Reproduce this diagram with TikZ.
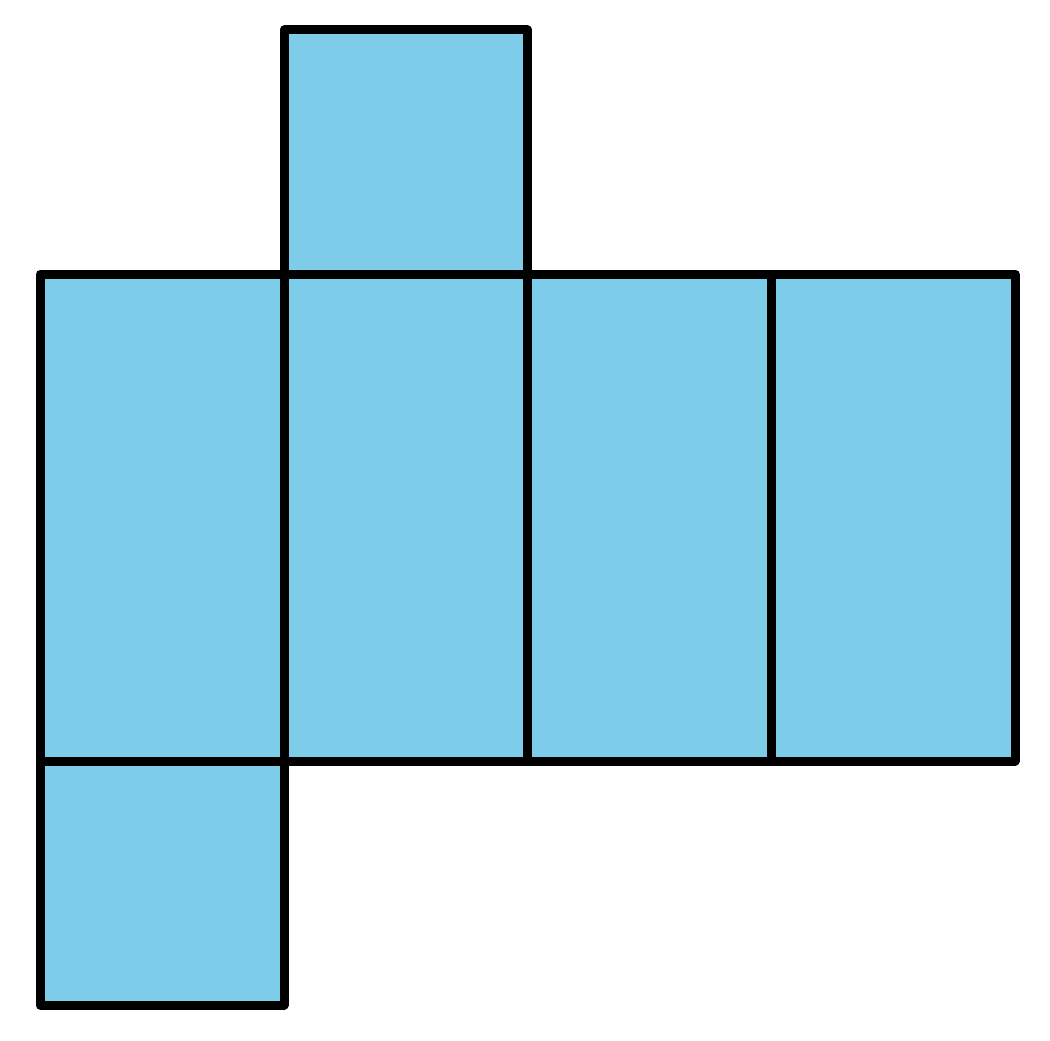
\documentclass[tikz,border=0pt]{standalone}
\definecolor{facecol}{HTML}{7DCDEA}
\begin{document}
\begin{tikzpicture}[x=1pt,y=-1pt,
  face/.style={fill=facecol,draw=black,line width=9pt,line join=round,line cap=round}]
\useasboundingbox (0,0) rectangle (1050,1041);
\def\u{243.75}
% top face
\filldraw[face] (284,30) rectangle (527.5,274);
% middle row
\filldraw[face] (40,274) rectangle (284,761);
\filldraw[face] (284,274) rectangle (527.5,761);
\filldraw[face] (527.5,274) rectangle (771,761);
\filldraw[face] (771,274) rectangle (1015,761);
% bottom face
\filldraw[face] (40,761) rectangle (284,1005);
\end{tikzpicture}
\end{document}
